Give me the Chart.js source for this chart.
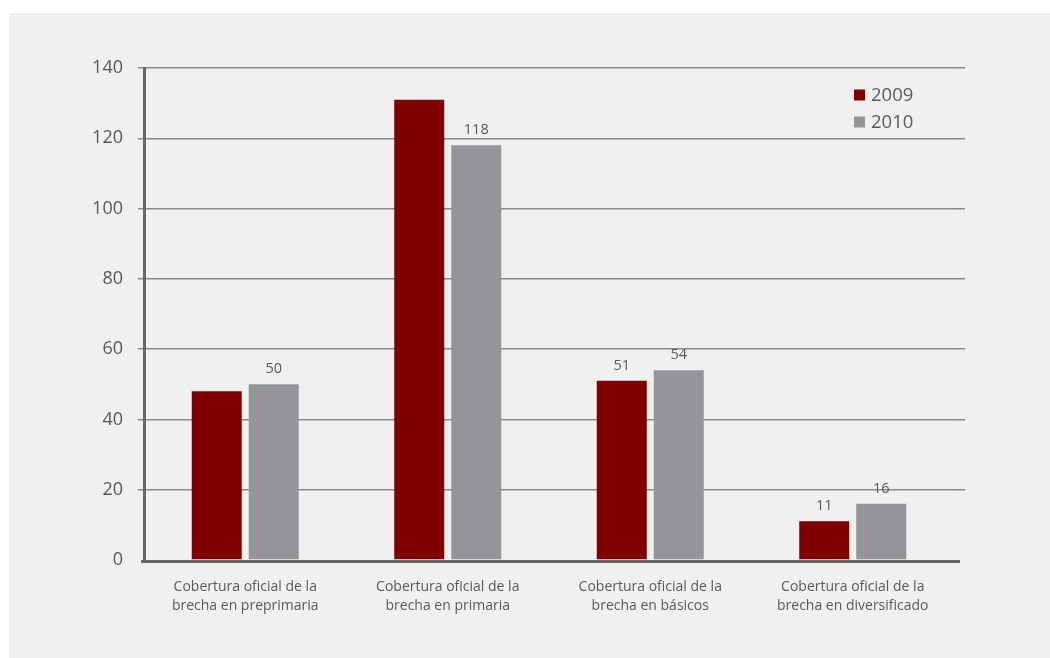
<!DOCTYPE html>
<html>
<head>
<meta charset="utf-8">
<script src="https://cdn.jsdelivr.net/npm/chart.js@4.4.1/dist/chart.umd.min.js"></script>
<style>
html,body{margin:0;padding:0;background:#fff;}
#wrap{width:1050px;height:658px;position:relative;}
</style>
</head>
<body>
<div id="wrap"><canvas id="c" width="1050" height="658"></canvas></div>
<script>
const categories = [
  ["Cobertura oficial de la", "brecha en preprimaria"],
  ["Cobertura oficial de la", "brecha en primaria"],
  ["Cobertura oficial de la", "brecha en básicos"],
  ["Cobertura oficial de la", "brecha en diversificado"]
];
const seriesNames = ["2009", "2010"];
const values2009 = [48, 131, 51, 11];
const values2010 = [50, 118, 54, 16];
const shownLabels2009 = [null, null, 51, 11];
const shownLabels2010 = [50, 118, 54, 16];
const yTicks = [0, 20, 40, 60, 80, 100, 120, 140];

const FONT = "'Open Sans', 'Noto Sans', sans-serif";
const TEXT = '#58595b';
const GRID = '#8a8a8a';
const GRID_W = 1.5;
const AXIS = '#666666';
const AXIS_W = 3;

function align(p, w) { const h = w / 2; return Math.round(p - h) + h; }

const bgPlugin = {
  id: 'bg',
  beforeDraw(chart) {
    const ctx = chart.ctx;
    ctx.save();
    ctx.fillStyle = '#ffffff';
    ctx.fillRect(0, 0, chart.width, chart.height);
    ctx.fillStyle = '#f0f0f0';
    ctx.fillRect(9, 13, chart.width - 9, chart.height - 13);
    ctx.restore();
  },
  beforeDatasetsDraw(chart) {
    const ctx = chart.ctx, y = chart.scales.y, a = chart.chartArea;
    ctx.save();
    ctx.strokeStyle = GRID;
    ctx.lineWidth = GRID_W;
    yTicks.forEach(v => {
      if (v === 0) return;
      const py = align(y.getPixelForValue(v), GRID_W);
      ctx.beginPath();
      ctx.moveTo(a.right - 1, py);
      ctx.lineTo(965, py);
      ctx.stroke();
    });
    ctx.restore();
  },
  afterDraw(chart) {
    const ctx = chart.ctx, a = chart.chartArea;
    ctx.save();
    // x axis line (full length, from the y axis to slightly past the plot)
    ctx.strokeStyle = AXIS;
    ctx.lineWidth = AXIS_W;
    ctx.beginPath();
    const py0 = Math.round(a.bottom) + AXIS_W / 2;
    ctx.moveTo(a.left - AXIS_W, py0);
    ctx.lineTo(960, py0);
    ctx.stroke();
    // value labels
    ctx.font = '14.5px ' + FONT;
    ctx.fillStyle = TEXT;
    ctx.textAlign = 'center';
    ctx.textBaseline = 'middle';
    [shownLabels2009, shownLabels2010].forEach((labels, di) => {
      const meta = chart.getDatasetMeta(di);
      labels.forEach((lab, i) => {
        if (lab === null) return;
        const el = meta.data[i];
        ctx.fillText(String(lab), el.x, el.y - 15);
      });
    });
    // legend
    chart.data.datasets.forEach((ds, i) => {
      const cy = 95 + i * 27;
      ctx.fillStyle = ds.backgroundColor;
      ctx.fillRect(854, cy - 5.5, 11, 11);
      ctx.fillStyle = TEXT;
      ctx.font = '18.5px ' + FONT;
      ctx.textAlign = 'left';
      ctx.textBaseline = 'middle';
      ctx.fillText(ds.label, 871, cy + 1);
    });
    ctx.restore();
  }
};

new Chart(document.getElementById('c'), {
  type: 'bar',
  data: {
    labels: categories,
    datasets: [
      { label: seriesNames[0], data: values2009, backgroundColor: '#7f0000' },
      { label: seriesNames[1], data: values2010, backgroundColor: '#939598' }
    ]
  },
  options: {
    responsive: false,
    animation: false,
    devicePixelRatio: 1,
    categoryPercentage: 0.563,
    barPercentage: 0.877,
    layout: { padding: { left: 0, top: 68, right: 96, bottom: 0 } },
    plugins: { legend: { display: false }, tooltip: { enabled: false } },
    scales: {
      x: {
        grid: { display: false, drawTicks: false },
        border: { display: false },
        ticks: { color: TEXT, font: { family: FONT, size: 14, lineHeight: 1.36 }, padding: 17, maxRotation: 0, autoSkip: false },
        afterFit(s) { s.height = 98; }
      },
      y: {
        min: 0, max: 140,
        grid: {
          color: ctx => (ctx.tick && ctx.tick.value === 0) ? 'rgba(0,0,0,0)' : GRID,
          lineWidth: GRID_W,
          tickLength: 6,
          drawTicks: true
        },
        border: { display: true, color: AXIS, width: AXIS_W },
        ticks: {
          stepSize: 20, color: TEXT, padding: 15,
          font: { family: FONT, size: 18 },
          callback: (v) => yTicks.includes(v) ? String(v) : ''
        },
        afterFit(s) { s.width = 144; }
      }
    }
  },
  plugins: [bgPlugin]
});
</script>
</body>
</html>
